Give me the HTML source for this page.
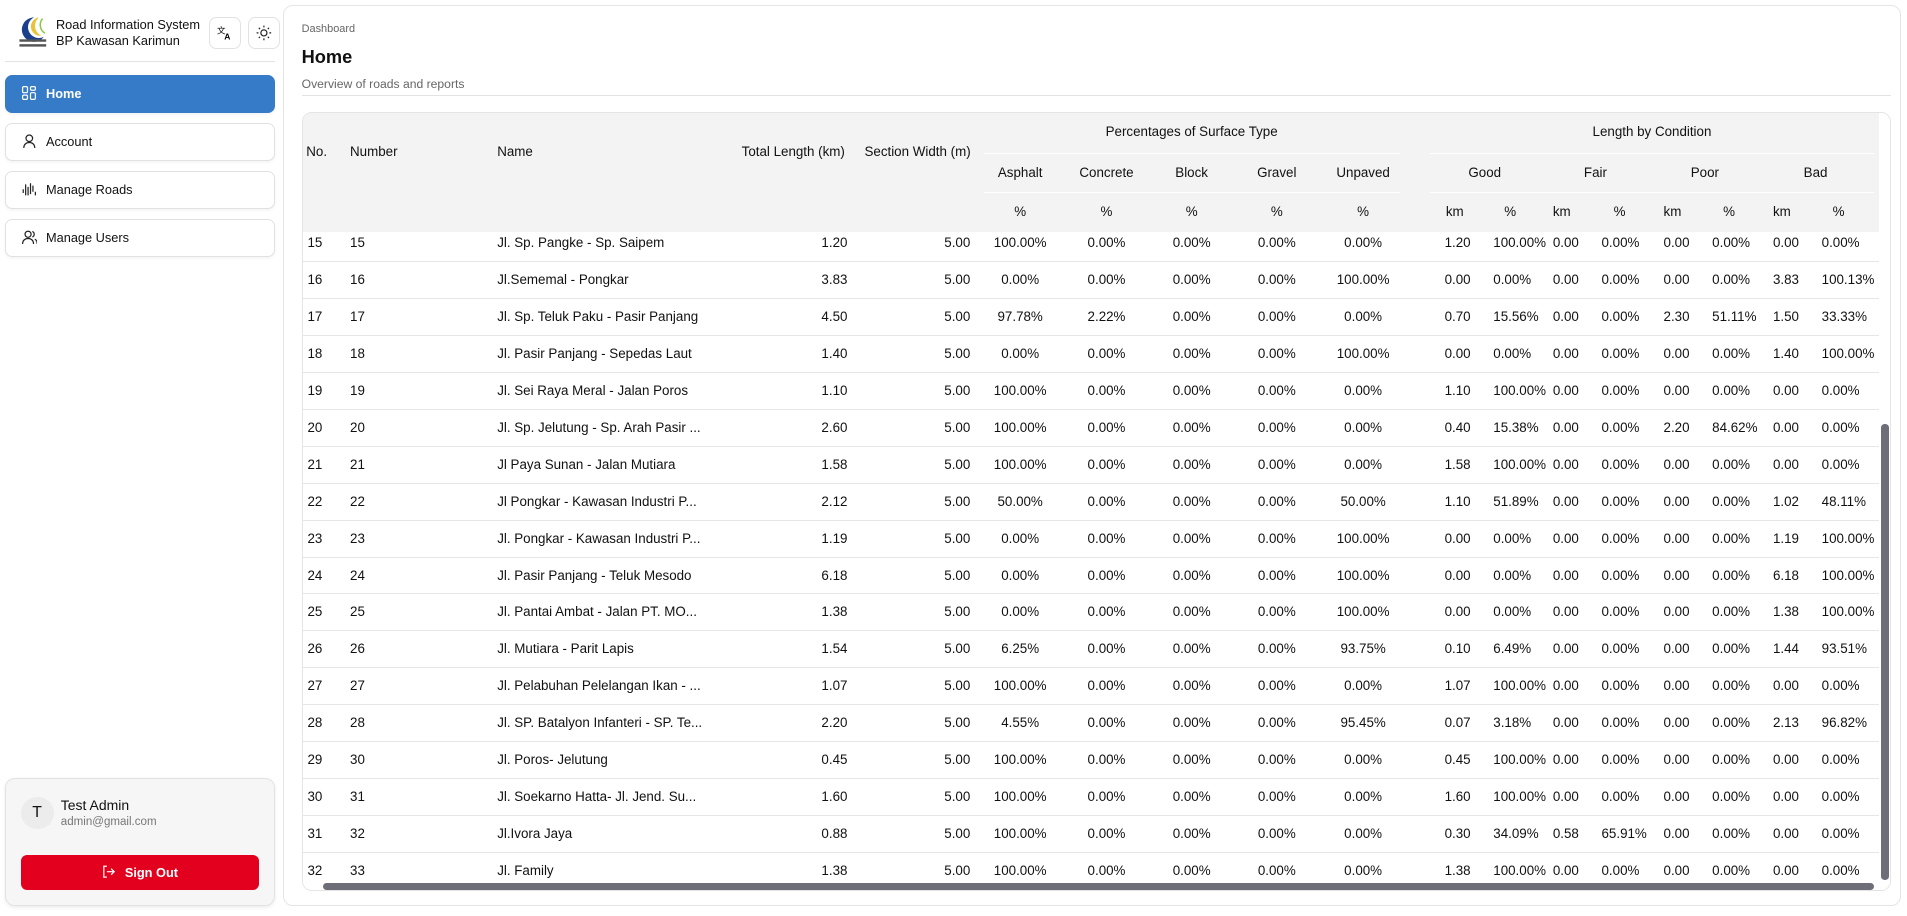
<!DOCTYPE html>
<html><head><meta charset="utf-8">
<style>
*{box-sizing:border-box;margin:0;padding:0}
html,body{width:1907px;height:916px;overflow:hidden;background:#fff}
body{font-family:"Liberation Sans",sans-serif;color:#111}
#z{zoom:1.21620;width:1568px;height:753px;position:relative}
.a{position:absolute}
.nav{position:absolute;left:4px;width:222px;height:31px;border:1px solid #e2e2e2;border-radius:6px;font-size:10.5px;line-height:29px;padding-left:33px;color:#111;box-shadow:0 1px 2px rgba(0,0,0,.05)}
.nav svg{position:absolute;left:13px;top:8px}
.ib{position:absolute;top:14px;width:26px;height:26px;border:1px solid #e2e2e2;border-radius:6px}
.ib svg{position:absolute;left:6px;top:6px}
#card{left:233px;top:4px;width:1330px;height:741px;border:1px solid #e4e4e4;border-radius:8px}
#tw{left:248px;top:92px;width:1307px;height:641px;border:1px solid #e4e4e4;border-radius:8px;overflow:hidden}
#body{position:absolute;left:0;top:0;width:1307px;height:641px}
.r{position:absolute;left:0;width:1296px;height:30.35px;border-bottom:1px solid #e6e6e6;font-size:11px;line-height:30px}
.r span{position:absolute;white-space:nowrap}
.c1{left:4px}.c2{left:39px}.c3{left:160px}
.c4{left:368px;width:80px;text-align:right}
.c5{left:469px;width:80px;text-align:right}
.c6{left:550px;width:80px;text-align:center}
.c7{left:621px;width:80px;text-align:center}
.c8{left:691px;width:80px;text-align:center}
.c9{left:761px;width:80px;text-align:center}
.c10{left:832px;width:80px;text-align:center}
.c11{left:939px}.c12{left:979px}.c13{left:1028px}.c14{left:1068px}.c15{left:1119px}.c16{left:1159px}.c17{left:1209px}.c18{left:1249px}
#hd{position:absolute;left:0;top:0;width:1296px;height:98px;background:#f3f3f3;font-size:11px;z-index:2}
#hd div{position:absolute;white-space:nowrap}
.ctr{text-align:center}
</style></head><body><div id="z">

<!-- sidebar -->
<svg class="a" style="left:14px;top:12px" width="26" height="28" viewBox="0 0 26 28">
<path d="M14 2 A10 10 0 1 0 22 18 A8 8 0 1 1 14 2Z" fill="#1c3f8c"/>
<path d="M18 2 A9 9 0 0 0 20 17 A7 7 0 0 1 18 2Z" fill="#e8c33a"/>
<path d="M21 3 A8 8 0 0 0 23 15" stroke="#8cc63f" stroke-width="1.2" fill="none"/>
<rect x="2" y="20" width="22" height="2" fill="#555"/><rect x="2" y="24" width="22" height="2" fill="#555"/>
</svg>
<div class="a" style="left:46px;top:14px;font-size:10.5px;line-height:13.5px">Road Information System<br>BP Kawasan Karimun</div>
<div class="ib" style="left:172px"><svg width="13" height="13" viewBox="0 0 13 13"><text x="0" y="7" font-size="7" font-family="Liberation Sans">文</text><text x="6" y="12" font-size="7" font-weight="bold" font-family="Liberation Sans">A</text></svg></div>
<div class="ib" style="left:204px"><svg width="13" height="13" viewBox="0 0 13 13"><circle cx="6.5" cy="6.5" r="2.5" fill="none" stroke="#222" stroke-width="1"/><g stroke="#222" stroke-width="1"><path d="M6.5 0.5v1.5M6.5 11v1.5M0.5 6.5h1.5M11 6.5h1.5M2.3 2.3l1 1M9.7 9.7l1 1M2.3 10.7l1-1M9.7 3.3l1-1"/></g></svg></div>
<div class="a" style="left:4px;top:50px;width:222px;height:1px;background:#e3e3e3"></div>

<div class="nav" style="top:62px;background:#357bc8;border-color:#357bc8;color:#fff;font-weight:bold"><svg width="12" height="12" viewBox="0 0 12 12" fill="none" stroke="#fff" stroke-width="1"><rect x="0.5" y="0.5" width="4" height="5" rx="1"/><rect x="7" y="0.5" width="4" height="3" rx="1"/><rect x="7" y="5.5" width="4" height="5.5" rx="1"/><rect x="0.5" y="7.5" width="4" height="3.5" rx="1"/></svg>Home</div>
<div class="nav" style="top:101px"><svg width="12" height="12" viewBox="0 0 12 12" fill="none" stroke="#222" stroke-width="1"><circle cx="6" cy="3.5" r="2.7"/><path d="M1.5 11.5c0-3 2-4.5 4.5-4.5s4.5 1.5 4.5 4.5"/></svg>Account</div>
<div class="nav" style="top:141px"><svg width="12" height="12" viewBox="0 0 12 12" fill="none" stroke="#222" stroke-width="1"><path d="M1 6v3M3 2v9M5 4v7M7 1v9M9 3v5M11 8v3"/></svg>Manage Roads</div>
<div class="nav" style="top:180px"><svg width="13" height="12" viewBox="0 0 13 12" fill="none" stroke="#222" stroke-width="1"><circle cx="5" cy="3.5" r="2.5"/><path d="M0.5 11.5c0-3 2-4.5 4.5-4.5s4.5 1.5 4.5 4.5M8.5 1.2a2.5 2.5 0 0 1 0 4.6M10.5 7.5c1.2.6 2 2 2 4"/></svg>Manage Users</div>

<div class="a" style="left:4px;top:640px;width:222px;height:105px;background:#f6f6f6;border:1px solid #e2e2e2;border-radius:8px;box-shadow:0 1px 3px rgba(0,0,0,.08)"></div>
<div class="a" style="left:17px;top:655px;width:27px;height:27px;border-radius:50%;background:#ececec;font-size:13px;line-height:27px;text-align:center">T</div>
<div class="a" style="left:50px;top:655px;font-size:11.5px">Test Admin</div>
<div class="a" style="left:50px;top:671px;font-size:9.5px;color:#777">admin@gmail.com</div>
<div class="a" style="left:17px;top:703px;width:196px;height:29px;background:#e2001e;border-radius:5px;color:#fff;font-size:10.5px;font-weight:bold;line-height:29px;text-align:center"><svg width="11" height="11" viewBox="0 0 11 11" style="vertical-align:-1px;margin-right:8px" fill="none" stroke="#fff" stroke-width="1"><path d="M4 1H1.5v9H4M4 5.5h6M7.5 3l2.5 2.5L7.5 8"/></svg>Sign Out</div>

<!-- main -->
<div id="card" class="a"></div>
<div class="a" style="left:248px;top:19px;font-size:9px;color:#666">Dashboard</div>
<div class="a" style="left:248px;top:38px;font-size:15px;font-weight:bold">Home</div>
<div class="a" style="left:248px;top:63px;font-size:10px;color:#666">Overview of roads and reports</div>
<div class="a" style="left:248px;top:78px;width:1307px;height:1px;background:#e3e3e3"></div>

<div id="tw" class="a">
<div id="hd">
<div style="left:3px;top:26px">No.</div>
<div style="left:39px;top:26px">Number</div>
<div style="left:160px;top:26px">Name</div>
<div style="left:361px;top:26px">Total Length (km)</div>
<div style="left:462px;top:26px">Section Width (m)</div>
<div class="ctr" style="left:560px;width:342px;top:9px">Percentages of Surface Type</div>
<div style="left:560px;top:33px;width:342px;height:1px;background:#fff"></div>
<div class="ctr" style="left:927px;width:365px;top:9px">Length by Condition</div>
<div style="left:927px;top:33px;width:365px;height:1px;background:#fff"></div>
<div style="left:560px;top:65px;width:342px;height:1px;background:#fff"></div>
<div style="left:927px;top:65px;width:365px;height:1px;background:#fff"></div>
<div class="ctr" style="left:550px;width:80px;top:43px">Asphalt</div>
<div class="ctr" style="left:621px;width:80px;top:43px">Concrete</div>
<div class="ctr" style="left:691px;width:80px;top:43px">Block</div>
<div class="ctr" style="left:761px;width:80px;top:43px">Gravel</div>
<div class="ctr" style="left:832px;width:80px;top:43px">Unpaved</div>
<div class="ctr" style="left:932px;width:80px;top:43px">Good</div>
<div class="ctr" style="left:1023px;width:80px;top:43px">Fair</div>
<div class="ctr" style="left:1113px;width:80px;top:43px">Poor</div>
<div class="ctr" style="left:1204px;width:80px;top:43px">Bad</div>
<div class="ctr" style="left:550px;width:80px;top:75px">%</div>
<div class="ctr" style="left:621px;width:80px;top:75px">%</div>
<div class="ctr" style="left:691px;width:80px;top:75px">%</div>
<div class="ctr" style="left:761px;width:80px;top:75px">%</div>
<div class="ctr" style="left:832px;width:80px;top:75px">%</div>
<div style="left:940px;top:75px">km</div><div style="left:988px;top:75px">%</div>
<div style="left:1028px;top:75px">km</div><div style="left:1078px;top:75px">%</div>
<div style="left:1119px;top:75px">km</div><div style="left:1168px;top:75px">%</div>
<div style="left:1209px;top:75px">km</div><div style="left:1258px;top:75px">%</div>
</div>
<div id="body">
<div class="r" style="top:92.5px"><span class="c1">15</span><span class="c2">15</span><span class="c3">Jl. Sp. Pangke - Sp. Saipem</span><span class="c4">1.20</span><span class="c5">5.00</span><span class="c6">100.00%</span><span class="c7">0.00%</span><span class="c8">0.00%</span><span class="c9">0.00%</span><span class="c10">0.00%</span><span class="c11">1.20</span><span class="c12">100.00%</span><span class="c13">0.00</span><span class="c14">0.00%</span><span class="c15">0.00</span><span class="c16">0.00%</span><span class="c17">0.00</span><span class="c18">0.00%</span></div>
<div class="r" style="top:122.85px"><span class="c1">16</span><span class="c2">16</span><span class="c3">Jl.Sememal - Pongkar</span><span class="c4">3.83</span><span class="c5">5.00</span><span class="c6">0.00%</span><span class="c7">0.00%</span><span class="c8">0.00%</span><span class="c9">0.00%</span><span class="c10">100.00%</span><span class="c11">0.00</span><span class="c12">0.00%</span><span class="c13">0.00</span><span class="c14">0.00%</span><span class="c15">0.00</span><span class="c16">0.00%</span><span class="c17">3.83</span><span class="c18">100.13%</span></div>
<div class="r" style="top:153.2px"><span class="c1">17</span><span class="c2">17</span><span class="c3">Jl. Sp. Teluk Paku - Pasir Panjang</span><span class="c4">4.50</span><span class="c5">5.00</span><span class="c6">97.78%</span><span class="c7">2.22%</span><span class="c8">0.00%</span><span class="c9">0.00%</span><span class="c10">0.00%</span><span class="c11">0.70</span><span class="c12">15.56%</span><span class="c13">0.00</span><span class="c14">0.00%</span><span class="c15">2.30</span><span class="c16">51.11%</span><span class="c17">1.50</span><span class="c18">33.33%</span></div>
<div class="r" style="top:183.55px"><span class="c1">18</span><span class="c2">18</span><span class="c3">Jl. Pasir Panjang - Sepedas Laut</span><span class="c4">1.40</span><span class="c5">5.00</span><span class="c6">0.00%</span><span class="c7">0.00%</span><span class="c8">0.00%</span><span class="c9">0.00%</span><span class="c10">100.00%</span><span class="c11">0.00</span><span class="c12">0.00%</span><span class="c13">0.00</span><span class="c14">0.00%</span><span class="c15">0.00</span><span class="c16">0.00%</span><span class="c17">1.40</span><span class="c18">100.00%</span></div>
<div class="r" style="top:213.9px"><span class="c1">19</span><span class="c2">19</span><span class="c3">Jl. Sei Raya Meral - Jalan Poros</span><span class="c4">1.10</span><span class="c5">5.00</span><span class="c6">100.00%</span><span class="c7">0.00%</span><span class="c8">0.00%</span><span class="c9">0.00%</span><span class="c10">0.00%</span><span class="c11">1.10</span><span class="c12">100.00%</span><span class="c13">0.00</span><span class="c14">0.00%</span><span class="c15">0.00</span><span class="c16">0.00%</span><span class="c17">0.00</span><span class="c18">0.00%</span></div>
<div class="r" style="top:244.25px"><span class="c1">20</span><span class="c2">20</span><span class="c3">Jl. Sp. Jelutung - Sp. Arah Pasir ...</span><span class="c4">2.60</span><span class="c5">5.00</span><span class="c6">100.00%</span><span class="c7">0.00%</span><span class="c8">0.00%</span><span class="c9">0.00%</span><span class="c10">0.00%</span><span class="c11">0.40</span><span class="c12">15.38%</span><span class="c13">0.00</span><span class="c14">0.00%</span><span class="c15">2.20</span><span class="c16">84.62%</span><span class="c17">0.00</span><span class="c18">0.00%</span></div>
<div class="r" style="top:274.6px"><span class="c1">21</span><span class="c2">21</span><span class="c3">Jl Paya Sunan - Jalan Mutiara</span><span class="c4">1.58</span><span class="c5">5.00</span><span class="c6">100.00%</span><span class="c7">0.00%</span><span class="c8">0.00%</span><span class="c9">0.00%</span><span class="c10">0.00%</span><span class="c11">1.58</span><span class="c12">100.00%</span><span class="c13">0.00</span><span class="c14">0.00%</span><span class="c15">0.00</span><span class="c16">0.00%</span><span class="c17">0.00</span><span class="c18">0.00%</span></div>
<div class="r" style="top:304.95px"><span class="c1">22</span><span class="c2">22</span><span class="c3">Jl Pongkar - Kawasan Industri P...</span><span class="c4">2.12</span><span class="c5">5.00</span><span class="c6">50.00%</span><span class="c7">0.00%</span><span class="c8">0.00%</span><span class="c9">0.00%</span><span class="c10">50.00%</span><span class="c11">1.10</span><span class="c12">51.89%</span><span class="c13">0.00</span><span class="c14">0.00%</span><span class="c15">0.00</span><span class="c16">0.00%</span><span class="c17">1.02</span><span class="c18">48.11%</span></div>
<div class="r" style="top:335.3px"><span class="c1">23</span><span class="c2">23</span><span class="c3">Jl. Pongkar - Kawasan Industri P...</span><span class="c4">1.19</span><span class="c5">5.00</span><span class="c6">0.00%</span><span class="c7">0.00%</span><span class="c8">0.00%</span><span class="c9">0.00%</span><span class="c10">100.00%</span><span class="c11">0.00</span><span class="c12">0.00%</span><span class="c13">0.00</span><span class="c14">0.00%</span><span class="c15">0.00</span><span class="c16">0.00%</span><span class="c17">1.19</span><span class="c18">100.00%</span></div>
<div class="r" style="top:365.65px"><span class="c1">24</span><span class="c2">24</span><span class="c3">Jl. Pasir Panjang - Teluk Mesodo</span><span class="c4">6.18</span><span class="c5">5.00</span><span class="c6">0.00%</span><span class="c7">0.00%</span><span class="c8">0.00%</span><span class="c9">0.00%</span><span class="c10">100.00%</span><span class="c11">0.00</span><span class="c12">0.00%</span><span class="c13">0.00</span><span class="c14">0.00%</span><span class="c15">0.00</span><span class="c16">0.00%</span><span class="c17">6.18</span><span class="c18">100.00%</span></div>
<div class="r" style="top:396px"><span class="c1">25</span><span class="c2">25</span><span class="c3">Jl. Pantai Ambat - Jalan PT. MO...</span><span class="c4">1.38</span><span class="c5">5.00</span><span class="c6">0.00%</span><span class="c7">0.00%</span><span class="c8">0.00%</span><span class="c9">0.00%</span><span class="c10">100.00%</span><span class="c11">0.00</span><span class="c12">0.00%</span><span class="c13">0.00</span><span class="c14">0.00%</span><span class="c15">0.00</span><span class="c16">0.00%</span><span class="c17">1.38</span><span class="c18">100.00%</span></div>
<div class="r" style="top:426.35px"><span class="c1">26</span><span class="c2">26</span><span class="c3">Jl. Mutiara - Parit Lapis</span><span class="c4">1.54</span><span class="c5">5.00</span><span class="c6">6.25%</span><span class="c7">0.00%</span><span class="c8">0.00%</span><span class="c9">0.00%</span><span class="c10">93.75%</span><span class="c11">0.10</span><span class="c12">6.49%</span><span class="c13">0.00</span><span class="c14">0.00%</span><span class="c15">0.00</span><span class="c16">0.00%</span><span class="c17">1.44</span><span class="c18">93.51%</span></div>
<div class="r" style="top:456.7px"><span class="c1">27</span><span class="c2">27</span><span class="c3">Jl. Pelabuhan Pelelangan Ikan - ...</span><span class="c4">1.07</span><span class="c5">5.00</span><span class="c6">100.00%</span><span class="c7">0.00%</span><span class="c8">0.00%</span><span class="c9">0.00%</span><span class="c10">0.00%</span><span class="c11">1.07</span><span class="c12">100.00%</span><span class="c13">0.00</span><span class="c14">0.00%</span><span class="c15">0.00</span><span class="c16">0.00%</span><span class="c17">0.00</span><span class="c18">0.00%</span></div>
<div class="r" style="top:487.05px"><span class="c1">28</span><span class="c2">28</span><span class="c3">Jl. SP. Batalyon Infanteri - SP. Te...</span><span class="c4">2.20</span><span class="c5">5.00</span><span class="c6">4.55%</span><span class="c7">0.00%</span><span class="c8">0.00%</span><span class="c9">0.00%</span><span class="c10">95.45%</span><span class="c11">0.07</span><span class="c12">3.18%</span><span class="c13">0.00</span><span class="c14">0.00%</span><span class="c15">0.00</span><span class="c16">0.00%</span><span class="c17">2.13</span><span class="c18">96.82%</span></div>
<div class="r" style="top:517.4px"><span class="c1">29</span><span class="c2">30</span><span class="c3">Jl. Poros- Jelutung</span><span class="c4">0.45</span><span class="c5">5.00</span><span class="c6">100.00%</span><span class="c7">0.00%</span><span class="c8">0.00%</span><span class="c9">0.00%</span><span class="c10">0.00%</span><span class="c11">0.45</span><span class="c12">100.00%</span><span class="c13">0.00</span><span class="c14">0.00%</span><span class="c15">0.00</span><span class="c16">0.00%</span><span class="c17">0.00</span><span class="c18">0.00%</span></div>
<div class="r" style="top:547.75px"><span class="c1">30</span><span class="c2">31</span><span class="c3">Jl. Soekarno Hatta- Jl. Jend. Su...</span><span class="c4">1.60</span><span class="c5">5.00</span><span class="c6">100.00%</span><span class="c7">0.00%</span><span class="c8">0.00%</span><span class="c9">0.00%</span><span class="c10">0.00%</span><span class="c11">1.60</span><span class="c12">100.00%</span><span class="c13">0.00</span><span class="c14">0.00%</span><span class="c15">0.00</span><span class="c16">0.00%</span><span class="c17">0.00</span><span class="c18">0.00%</span></div>
<div class="r" style="top:578.1px"><span class="c1">31</span><span class="c2">32</span><span class="c3">Jl.Ivora Jaya</span><span class="c4">0.88</span><span class="c5">5.00</span><span class="c6">100.00%</span><span class="c7">0.00%</span><span class="c8">0.00%</span><span class="c9">0.00%</span><span class="c10">0.00%</span><span class="c11">0.30</span><span class="c12">34.09%</span><span class="c13">0.58</span><span class="c14">65.91%</span><span class="c15">0.00</span><span class="c16">0.00%</span><span class="c17">0.00</span><span class="c18">0.00%</span></div>
<div class="r" style="top:608.45px"><span class="c1">32</span><span class="c2">33</span><span class="c3">Jl. Family</span><span class="c4">1.38</span><span class="c5">5.00</span><span class="c6">100.00%</span><span class="c7">0.00%</span><span class="c8">0.00%</span><span class="c9">0.00%</span><span class="c10">0.00%</span><span class="c11">1.38</span><span class="c12">100.00%</span><span class="c13">0.00</span><span class="c14">0.00%</span><span class="c15">0.00</span><span class="c16">0.00%</span><span class="c17">0.00</span><span class="c18">0.00%</span></div>
</div>
<!-- scrollbars -->
<div class="a" style="left:1296px;top:0;width:11px;height:641px;background:#fff;z-index:3"></div>
<div class="a" style="left:1298px;top:256px;width:6px;height:375px;background:#6e6e78;border-radius:3px;z-index:4"></div>
<div class="a" style="left:0;top:630px;width:1296px;height:11px;background:#fff;z-index:3"></div>
<div class="a" style="left:17px;top:633px;width:1275px;height:6px;background:#6e6e78;border-radius:3px;z-index:4"></div>
</div>
</div></body></html>
